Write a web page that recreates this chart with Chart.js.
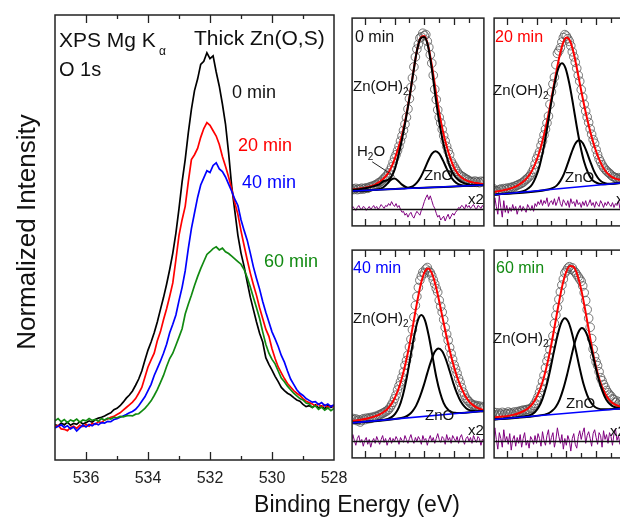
<!DOCTYPE html>
<html>
<head>
<meta charset="utf-8">
<script src="https://cdn.jsdelivr.net/npm/chart.js@4.4.1/dist/chart.umd.min.js"></script>
<style>
html, body { margin: 0; padding: 0; background: #fff; overflow: hidden; width: 620px; height: 519px; }
#fig { position: relative; width: 620px; height: 519px; overflow: hidden; font-family: "Liberation Sans", Arial, sans-serif; color: #111; }
canvas { position: absolute; }
.t { position: absolute; white-space: nowrap; line-height: 1; }
.s { font-size: 10px; position: relative; top: 4px; }
</style>
</head>
<body>
<div id="fig">
	<canvas id="main" width="360" height="519" style="left:0;top:0"></canvas>
	<canvas id="p0" width="142" height="218" style="left:347px;top:13px"></canvas>
	<canvas id="p1" width="142" height="218" style="left:489px;top:13px"></canvas>
	<canvas id="p2" width="142" height="218" style="left:347px;top:245px"></canvas>
	<canvas id="p3" width="142" height="218" style="left:489px;top:245px"></canvas>

	<div class="t" style="left:59px;top:28.7px;font-size:21px">XPS Mg K</div>
	<div class="t" style="left:159px;top:45px;font-size:12px">α</div>
	<div class="t" style="left:59px;top:58.6px;font-size:20px">O 1s</div>
	<div class="t" style="left:194px;top:27.2px;font-size:21px">Thick Zn(O,S)</div>
	<div class="t" style="left:232px;top:83px;font-size:18px">0 min</div>
	<div class="t" style="left:238px;top:136px;font-size:18px;color:#f00">20 min</div>
	<div class="t" style="left:242px;top:173px;font-size:18px;color:#00f">40 min</div>
	<div class="t" style="left:264px;top:252px;font-size:18px;color:#118a11">60 min</div>

	<div class="t" style="left:-123.7px;top:219px;width:300px;text-align:center;font-size:26px;transform:rotate(-90deg)">Normalized Intensity</div>
	<div class="t" style="left:207px;top:492.5px;width:300px;text-align:center;font-size:23px">Binding Energy (eV)</div>

	<div class="t" style="left:355px;top:28.5px;font-size:16px">0 min</div>
	<div class="t" style="left:353px;top:78.3px;font-size:15px">Zn(OH)<span class="s">2</span></div>
	<div class="t" style="left:357px;top:143px;font-size:15px">H<span class="s">2</span>O</div>
	<div class="t" style="left:424px;top:167.3px;font-size:15px">ZnO</div>
	<div class="t" style="left:468px;top:191.3px;font-size:15px">x2</div>

	<div class="t" style="left:495px;top:28.5px;font-size:16px;color:#f00">20 min</div>
	<div class="t" style="left:493px;top:82.3px;font-size:15px">Zn(OH)<span class="s">2</span></div>
	<div class="t" style="left:565px;top:169.3px;font-size:15px">ZnO</div>
	<div class="t" style="left:616px;top:191.3px;font-size:15px">x3</div>

	<div class="t" style="left:353px;top:259.5px;font-size:16px;color:#00f">40 min</div>
	<div class="t" style="left:353px;top:310.3px;font-size:15px">Zn(OH)<span class="s">2</span></div>
	<div class="t" style="left:425px;top:407.3px;font-size:15px">ZnO</div>
	<div class="t" style="left:468px;top:422.3px;font-size:15px">x2</div>

	<div class="t" style="left:496px;top:259.5px;font-size:16px;color:#118a11">60 min</div>
	<div class="t" style="left:493px;top:330.3px;font-size:15px">Zn(OH)<span class="s">2</span></div>
	<div class="t" style="left:566px;top:395.3px;font-size:15px">ZnO</div>
	<div class="t" style="left:610px;top:423.3px;font-size:15px">x2</div>
</div>

<script>
// binding energy grid of the measured spectra (eV)
const energies = [
	537.0, 536.9, 536.8, 536.7, 536.6, 536.5, 536.4, 536.3, 536.2, 536.1,
	536.0, 535.9, 535.8, 535.7, 535.6, 535.5, 535.4, 535.3, 535.2, 535.1,
	535.0, 534.9, 534.8, 534.7, 534.6, 534.5, 534.4, 534.3, 534.2, 534.1,
	534.0, 533.9, 533.8, 533.7, 533.6, 533.5, 533.4, 533.3, 533.2, 533.1,
	533.0, 532.9, 532.8, 532.7, 532.6, 532.5, 532.4, 532.3, 532.2, 532.1,
	532.0, 531.9, 531.8, 531.7, 531.6, 531.5, 531.4, 531.3, 531.2, 531.1,
	531.0, 530.9, 530.8, 530.7, 530.6, 530.5, 530.4, 530.3, 530.2, 530.1,
	530.0, 529.9, 529.8, 529.7, 529.6, 529.5, 529.4, 529.3, 529.2, 529.1,
	529.0, 528.9, 528.8, 528.7, 528.6, 528.5, 528.4, 528.3, 528.2, 528.1, 528.0,
];

// normalized O 1s intensity
const min0 = [
	8.0, 7.6, 8.3, 7.9, 8.5, 7.8, 8.2, 8.0, 8.6, 8.1,
	8.4, 8.8, 8.5, 9.1, 9.4, 9.6, 9.9, 10.3, 10.6, 11.3,
	11.6, 12.2, 13.0, 13.9, 14.6, 15.5, 16.8, 18.2, 20.0, 22.4,
	24.7, 26.5, 28.6, 31.0, 33.8, 36.5, 39.5, 42.8, 46.5, 51.0,
	56.5, 62.5, 67.5, 73.5, 78.8, 83.0, 85.6, 88.9, 89.6, 91.5,
	90.2, 90.8, 87.2, 84.0, 80.0, 75.5, 69.0, 61.5, 56.0, 50.5,
	46.5, 43.5, 40.0, 36.6, 33.8, 31.0, 28.5, 26.5, 23.0, 21.5,
	20.2, 18.8, 17.6, 16.3, 15.6, 15.0, 14.6, 14.0, 13.5, 13.2,
	12.5, 12.0, 12.2, 11.8, 12.4, 11.7, 12.1, 11.5, 12.3, 11.8, 12.2,
];
const min20 = [
	7.4, 7.8, 7.0, 6.9, 6.6, 7.3, 7.6, 7.1, 7.8, 7.5,
	8.0, 7.6, 8.2, 8.0, 8.6, 8.4, 9.0, 9.2, 9.6, 9.8,
	10.2, 10.6, 11.2, 11.8, 12.4, 13.0, 13.8, 15.0, 16.3, 18.6,
	20.9, 22.5, 24.0, 26.8, 28.8, 31.5, 34.0, 36.8, 39.8, 45.0,
	50.5, 54.0, 57.0, 62.5, 67.5, 68.6, 70.0, 72.5, 74.5, 75.8,
	75.2, 74.0, 72.8, 70.9, 68.2, 66.0, 63.6, 60.9, 57.8, 55.2,
	51.5, 48.2, 45.0, 42.0, 39.4, 37.0, 34.2, 31.8, 29.4, 27.8,
	25.0, 22.8, 20.9, 19.6, 18.3, 17.2, 16.4, 15.6, 15.0, 14.5,
	13.8, 13.2, 12.9, 12.6, 12.1, 12.6, 11.9, 12.4, 11.8, 12.2, 11.9,
];
const min40 = [
	7.2, 7.6, 7.9, 7.3, 7.7, 7.0, 7.4, 6.5, 7.2, 7.8,
	7.4, 8.0, 7.7, 8.2, 7.9, 8.4, 8.3, 8.7, 8.6, 9.1,
	9.3, 9.6, 9.9, 10.2, 10.6, 10.9, 11.4, 12.2, 13.2, 14.2,
	15.6, 17.0, 19.0, 20.6, 22.2, 24.0, 26.0, 28.6, 30.5, 32.6,
	35.8, 38.8, 42.5, 47.5, 52.0, 55.5, 59.0, 61.8, 63.4, 65.0,
	64.6, 66.2, 66.8, 65.4, 64.8, 63.6, 62.0, 60.4, 58.6, 57.2,
	54.0, 51.6, 49.4, 46.5, 43.4, 40.8, 38.4, 35.6, 33.2, 31.0,
	28.8, 27.2, 25.5, 23.5, 22.0, 20.0, 18.2, 17.0, 15.8, 15.0,
	14.5, 13.8, 13.4, 13.0, 13.1, 12.5, 12.9, 12.2, 12.6, 12.0, 12.4,
];
const min60 = [
	8.8, 9.3, 8.6, 9.1, 8.4, 9.0, 8.7, 9.2, 8.5, 9.0,
	8.8, 9.3, 8.9, 9.1, 8.7, 9.3, 9.0, 9.4, 9.2, 9.6,
	9.5, 9.8, 9.7, 9.9, 10.0, 9.9, 10.3, 10.4, 11.0, 11.6,
	12.4, 13.3, 14.5, 15.8, 17.4, 19.0, 21.0, 22.8, 24.0, 25.8,
	27.6, 29.5, 32.8, 35.0, 37.0, 39.2, 41.2, 43.0, 44.6, 46.2,
	46.8, 47.5, 47.9, 47.2, 47.6, 46.8, 46.4, 45.8, 45.2, 44.6,
	44.0, 42.8, 41.0, 38.9, 36.5, 34.2, 31.8, 28.8, 26.0, 24.0,
	22.6, 21.6, 20.0, 18.4, 17.6, 16.6, 15.8, 15.0, 14.4, 13.8,
	13.5, 12.8, 12.6, 11.8, 12.2, 11.4, 11.9, 11.2, 11.7, 11.1, 11.6,
];

// fit residuals (x2 / x3), one value per energy
const resid0 = [
	2, 0, 3, 1, -1, 2, 4, 1, 0, 3, 2, -1, 1, 3, 0, 2, 4, 1, 3, 0,
	2, 5, 3, 1, 4, 3, 6, 4, 8, 5, 3, 6, 2, 4, 0, -3, -2, -6, -4, -8,
	-5, -3, -7, -9, -5, -2, -4, -6, -1, 3, 8, 12, 15, 10, 14, 9, 4, 1, -4, -8,
	-6, -11, -9, -7, -12, -8, -5, -10, -7, -4, -6, -3, -1, 2, 1, 4, 3, 0, 5, 2,
	4, 1, 3, 5, 2, 0, 4, 3, 1, 4, 2,
];
const resid20 = [
	6, -7, 12, 3, -5, 14, 2, -8, 9, -3, 4, -4, 2, -2, 5, -1, 3, -5, 1, 4,
	-2, 3, 0, -3, 5, 2, -1, 4, -2, 6, 3, 8, 5, 10, 4, 9, 6, 12, 3, 7,
	9, 5, 11, 4, 8, 13, 6, 3, 10, 7, 4, 9, 2, 11, 6, 8, 3, 10, 5, 7,
	2, 8, 4, 9, 3, 6, 10, 4, 7, 2, 8, 5, 3, 9, 6, 2, 7, 4, 8, 5,
	3, 7, 2, 6, 4, 9, 1, 5, 3, 6, 2,
];
const resid40 = [
	5, -2, 7, 1, -4, 3, 6, -1, 2, -5, 1, 4, -3, 2, -6, 0, 3, -2, 5, 1,
	-3, 2, 6, -1, 3, -4, 1, 4, -2, 3, 0, 5, 2, -3, 4, 1, -1, 6, 2, -2,
	3, 7, 1, -2, 4, 0, 5, 2, -3, 6, 1, 3, -4, 2, 6, 0, 4, -2, 3, 8,
	2, -1, 5, 3, -3, 7, 1, 4, -2, 6, 3, 0, 5, -2, 4, 7, 1, -3, 3, 5,
	0, 4, -2, 6, 2, -1, 5, 3, -4, 2, 1,
];
const resid60 = [
	10, -4, 14, 2, -8, 9, 3, -6, 12, 0, 5, -3, 8, -9, 2, 6, -5, 4, -2, 7,
	-6, 3, 9, -4, 1, -7, 5, 2, -3, 6, -2, 8, 3, -5, 10, 1, -4, 6, 12, -3,
	4, 9, -6, 2, 14, 5, -2, 7, -8, 3, -4, 6, 1, -10, 3, 8, -3, -7, 5, 11,
	2, 9, 14, -2, 6, 10, 3, -5, 8, 12, 4, -3, 9, 6, -6, 11, 2, 7, -2, 9,
	5, -4, 8, 13, 1, 6, -3, 9, 4, -5, 7,
];

// fitted envelopes on a coarser grid
const fitEnergies = [
	537, 536.75, 536.5, 536.25, 536, 535.75, 535.5, 535.25, 535, 534.75,
	534.5, 534.25, 534, 533.75, 533.5, 533.25, 533, 532.75, 532.5, 532.25,
	532, 531.75, 531.5, 531.25, 531, 530.75, 530.5, 530.25, 530, 529.75,
	529.5, 529.25, 529, 528.75, 528.5, 528.25, 528,
];
const fit0 = [
	7.8, 8.0, 8.2, 8.5, 8.8, 9.3, 9.9, 10.8, 12.0, 13.6,
	15.8, 19.2, 24.0, 30.0, 37.0, 46.0, 57.0, 70.0, 82.0, 89.0,
	90.0, 85.0, 74.5, 61.5, 49.0, 39.0, 31.0, 24.5, 19.5, 16.3,
	14.3, 13.0, 12.2, 11.7, 11.3, 11.0, 10.8,
];
const znoh0 = [
	7.6, 7.8, 8.0, 8.2, 8.5, 8.9, 9.4, 10.0, 10.8, 12.3,
	12.8, 14.2, 18.4, 25.8, 34.8, 45.2, 56.9, 70.0, 82.0, 88.8,
	89.5, 84.5, 72.5, 57.5, 44.0, 33.5, 25.5, 19.5, 15.5, 13.2,
	11.8, 11.0, 10.6, 10.4, 10.3, 10.25, 10.25,
];
const fit20 = [
	6.2, 6.4, 6.7, 7.0, 7.4, 7.8, 8.4, 9.2, 10.3, 11.7,
	13.6, 16.4, 20.3, 25.3, 31.5, 39.0, 47.6, 56.6, 65.0, 71.5,
	74.5, 73.0, 67.5, 59.5, 51.0, 43.0, 35.8, 29.5, 24.2, 20.0,
	16.8, 14.6, 13.2, 12.3, 11.8, 11.5, 11.3,
];
const fit40 = [
	6.8, 7.0, 7.2, 7.4, 7.7, 8.0, 8.4, 8.9, 9.5, 10.3,
	11.5, 13.2, 15.7, 19.2, 23.8, 29.6, 36.6, 44.6, 52.8, 60.0,
	64.8, 66.4, 64.6, 60.0, 53.6, 46.5, 39.6, 33.3, 27.9, 23.3,
	19.6, 16.7, 14.6, 13.2, 12.2, 11.6, 11.2,
];
const fit60 = [
	7.8, 7.9, 8.0, 8.1, 8.2, 8.4, 8.6, 8.9, 9.3, 9.8,
	10.5, 11.6, 13.2, 15.5, 18.6, 22.6, 27.4, 32.8, 38.3, 43.2,
	46.6, 48.1, 47.8, 45.6, 41.8, 36.8, 31.2, 25.8, 21.2, 17.6,
	15.0, 13.2, 12.0, 11.3, 10.9, 10.6, 10.5,
];

// fitted components [energy, intensity]
const h2o0 = [[537, 7.05], [535.25, 7.8], [535, 8.2], [534.75, 9.1], [534.5, 10.9], [534.25, 13.0], [534, 13.7], [533.75, 12.4], [533.5, 10.5], [533.25, 9.2], [533, 8.65], [528, 10.25]];
const zno0 = [[537, 7.05], [533.5, 8.35], [533.25, 8.54], [533, 8.97], [532.75, 9.76], [532.5, 11.55], [532.25, 14.44], [532, 18.53], [531.75, 23.12], [531.5, 26.91], [531.25, 28.4], [531, 27.09], [530.75, 23.48], [530.5, 19.06], [530.25, 15.15], [530, 12.44], [529.75, 10.83], [529.5, 10.22], [529.25, 9.96], [529, 9.95], [528, 10.25]];
const znoh20 = [[537, 5.0], [535.05, 6.4], [534.8, 6.9], [534.55, 7.9], [534.3, 9.6], [534.05, 12.8], [533.8, 17.7], [533.55, 24.9], [533.3, 34.0], [533.05, 44.2], [532.8, 53.6], [532.55, 60.6], [532.3, 63.1], [532.05, 60.9], [531.8, 54.2], [531.55, 45.1], [531.3, 35.2], [531.05, 26.4], [530.8, 19.5], [530.55, 14.9], [530.3, 12.0], [530.05, 10.6], [529.8, 9.9], [529.55, 9.7], [528, 10.45]];
const zno20 = [[537, 5.0], [533.15, 7.5], [532.9, 8.1], [532.65, 9.1], [532.4, 11.2], [532.15, 14.4], [531.9, 18.9], [531.65, 23.7], [531.4, 27.6], [531.15, 29.1], [530.9, 27.9], [530.65, 24.3], [530.4, 19.8], [530.15, 15.6], [529.9, 12.7], [529.65, 10.9], [529.4, 10.2], [529.15, 9.9], [528, 10.45]];
const znoh40 = [[537, 6.1], [534.7, 7.4], [534.45, 7.7], [534.2, 8.4], [533.95, 9.8], [533.7, 12.3], [533.45, 16.8], [533.2, 23.2], [532.95, 31.3], [532.7, 39.5], [532.45, 45.9], [532.2, 48.3], [531.95, 46.1], [531.7, 40.1], [531.45, 32.1], [531.2, 24.2], [530.95, 18.1], [530.7, 13.9], [530.45, 11.6], [530.2, 10.4], [529.95, 10.1], [529.7, 10.0], [528, 10.8]];
const zno40 = [[537, 6.1], [533.55, 8.1], [533.3, 8.5], [533.05, 9.3], [532.8, 10.7], [532.55, 12.9], [532.3, 16.3], [532.05, 20.6], [531.8, 25.6], [531.55, 30.3], [531.3, 33.9], [531.05, 35.2], [530.8, 34.1], [530.55, 30.9], [530.3, 26.4], [530.05, 21.6], [529.8, 17.6], [529.55, 14.5], [529.3, 12.5], [529.05, 11.3], [528.8, 10.9], [528.55, 10.7], [528, 10.8]];
const znoh60 = [[537, 7.25], [534.6, 8.3], [534.35, 8.6], [534.1, 9.3], [533.85, 10.6], [533.6, 12.8], [533.35, 16.0], [533.1, 20.2], [532.85, 25.0], [532.6, 29.5], [532.35, 32.9], [532.1, 34.2], [531.85, 33.1], [531.6, 29.9], [531.35, 25.5], [531.1, 20.9], [530.85, 16.8], [530.6, 13.8], [530.35, 11.8], [530.1, 10.7], [529.85, 10.2], [529.6, 10.0], [528, 10.3]];
const zno60 = [[537, 7.25], [533.45, 8.6], [533.2, 8.9], [532.95, 9.6], [532.7, 10.7], [532.45, 12.6], [532.2, 15.5], [531.95, 19.2], [531.7, 23.4], [531.45, 27.5], [531.2, 30.4], [530.95, 31.6], [530.7, 30.6], [530.45, 27.9], [530.2, 24.0], [529.95, 19.8], [529.7, 16.3], [529.45, 13.6], [529.2, 11.9], [528.95, 11.0], [528.7, 10.5], [528.45, 10.3], [528, 10.3]];

// linear backgrounds
const bg0 = [[537, 7.05], [528, 10.25]];
const bg20 = [[537, 5.0], [528, 10.45]];
const bg40 = [[537, 6.1], [528, 10.8]];
const bg60 = [[537, 7.25], [528, 10.3]];

const pairs = (xs, ys) => ys.map((y, i) => ({ x: xs[i], y }));
const pts = (arr) => arr.map(([x, y]) => ({ x, y }));

// frame with inward ticks on top and bottom (settings passed in directly)
function frameTicks(major, minor, leader) {
	return {
		id: "frameTicks",
		afterDatasetsDraw(chart) {
			const { ctx, chartArea: a } = chart;
			const x = chart.scales.x;
			ctx.save();
			ctx.strokeStyle = "#222";
			ctx.lineWidth = 1.5;
			ctx.strokeRect(a.left, a.top, a.right - a.left, a.bottom - a.top);
			ctx.lineWidth = 1.3;
			ctx.beginPath();
			for (let v = 528; v <= 537; v++) {
				if (v <= x.min || v >= x.max) continue;
				const px = Math.round(x.getPixelForValue(v)) + 0.5;
				const len = v % 2 === 0 ? major : minor;
				ctx.moveTo(px, a.bottom);
				ctx.lineTo(px, a.bottom - len);
				ctx.moveTo(px, a.top);
				ctx.lineTo(px, a.top + len);
			}
			ctx.stroke();
			if (leader) {
				const y = chart.scales.y;
				ctx.lineWidth = 1;
				ctx.beginPath();
				ctx.moveTo(x.getPixelForValue(leader[0][0]), y.getPixelForValue(leader[0][1]));
				ctx.lineTo(x.getPixelForValue(leader[1][0]), y.getPixelForValue(leader[1][1]));
				ctx.stroke();
			}
			ctx.restore();
		},
	};
}

Chart.defaults.font.family = '"Liberation Sans", Arial, sans-serif';
Chart.defaults.animation = false;

new Chart(document.getElementById("main"), {
	type: "line",
	data: {
		datasets: [
			{ label: "60 min", data: pairs(energies, min60), borderColor: "#118a11", order: 1 },
			{ label: "40 min", data: pairs(energies, min40), borderColor: "#0000ff", order: 2 },
			{ label: "20 min", data: pairs(energies, min20), borderColor: "#ff0000", order: 3 },
			{ label: "0 min", data: pairs(energies, min0), borderColor: "#000000", order: 4 },
		],
	},
	options: {
		responsive: false,
		devicePixelRatio: 1,
		layout: { padding: { left: 55, top: 15, right: 26, bottom: 0 } },
		datasets: { line: { pointRadius: 0, borderWidth: 1.7, tension: 0, clip: 0 } },
		plugins: {
			legend: { display: false },
			tooltip: { enabled: false },
		},
		scales: {
			x: {
				type: "linear",
				min: 528,
				max: 537,
				reverse: true,
				grid: { display: false, drawTicks: false },
				border: { display: false },
				ticks: {
					stepSize: 1,
					autoSkip: false,
					maxRotation: 0,
					padding: 9,
					color: "#222",
					font: { size: 16 },
					callback: (v) => (v % 2 === 0 ? String(v) : ""),
				},
				afterFit: (scale) => { scale.height = 59; },
			},
			y: { display: false, min: 0, max: 100 },
		},
	},
	plugins: [frameTicks(8, 4)],
});

const panels = [
	{ id: "p0", spectrum: min0, fit: fit0, parts: [pairs(fitEnergies, znoh0), pts(zno0), pts(h2o0)], bg: bg0, resid: resid0, yMin: -11.6, yMax: 99.6, leader: [[535.5, 22.7], [534.0, 14.9]] },
	{ id: "p1", spectrum: min20, fit: fit20, parts: [pts(znoh20), pts(zno20)], bg: bg20, resid: resid20, yMin: -8.7, yMax: 83.1 },
	{ id: "p2", spectrum: min40, fit: fit40, parts: [pts(znoh40), pts(zno40)], bg: bg40, resid: resid40, yMin: -7.5, yMax: 73.6 },
	{ id: "p3", spectrum: min60, fit: fit60, parts: [pts(znoh60), pts(zno60)], bg: bg60, resid: resid60, yMin: -2.9, yMax: 52.3 },
];

panels.forEach((p) => {
	const datasets = [
		{ data: [{ x: 537, y: 0 }, { x: 528, y: 0 }], yAxisID: "yRes", borderColor: "#111", borderWidth: 1.5, order: 1 },
		{ data: pts(p.bg), borderColor: "#0000ff", borderWidth: 1.6, order: 2 },
		...p.parts.map((d) => ({ data: d, borderColor: "#000", borderWidth: 2, cubicInterpolationMode: "monotone", order: 3 })),
		{ data: pairs(fitEnergies, p.fit), borderColor: "#ff0000", borderWidth: 2, cubicInterpolationMode: "monotone", order: 4 },
		{ data: pairs(energies, p.resid), yAxisID: "yRes", borderColor: "#800080", borderWidth: 1, order: 5 },
		{
			data: pairs(energies, p.spectrum),
			showLine: false,
			pointRadius: 4.3,
			pointBorderWidth: 0.8,
			pointBorderColor: "#555",
			pointBackgroundColor: "rgba(255,255,255,0)",
			order: 6,
		},
	];

	new Chart(document.getElementById(p.id), {
		type: "line",
		data: { datasets },
		options: {
			responsive: false,
			devicePixelRatio: 1,
			layout: { padding: 2 },
			datasets: { line: { pointRadius: 0, tension: 0, clip: 0 } },
			plugins: {
				legend: { display: false },
				tooltip: { enabled: false },
			},
			scales: {
				x: { type: "linear", min: 528, max: 536.85, reverse: true, display: false },
				y: { display: false, min: p.yMin, max: p.yMax },
				yRes: { type: "linear", axis: "y", position: "right", display: false, min: -17, max: 197 },
			},
		},
		plugins: [frameTicks(7, 5, p.leader)],
	});
});
</script>
</body>
</html>
